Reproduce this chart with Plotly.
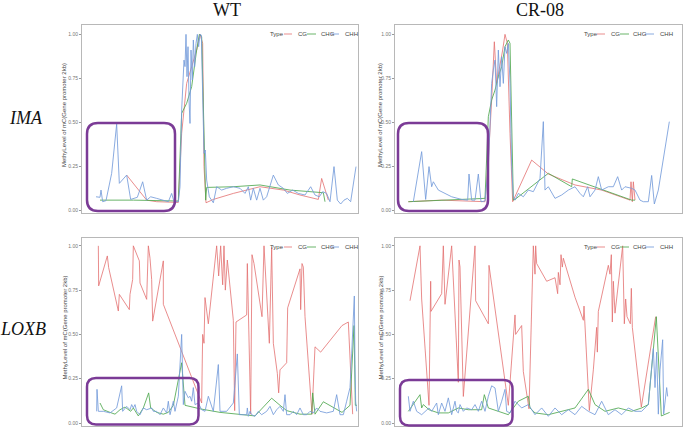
import plotly.graph_objects as go

W, H = 684, 428

# ---------------- data: (position, methylation level) ----------------
wt_ima_cg = [(380,0.202),(440,0.06),(470,0.051),(535,0.047),(545,0.439),(560,0.722),(575,0.817),(590,0.911),(600,1.0),(608,0.949),(612,0.25),(618,0.045),(640,0.064),(700,0.098),(780,0.136),(850,0.117),(900,0.089),(955,0.064),(965,0.183),(975,0.117),(985,0.06)]
wt_ima_chg = [(300,0.06),(400,0.06),(535,0.055),(545,0.552),(560,0.609),(575,0.703),(590,0.911),(598,1.0),(605,0.987),(617,0.06),(620,0.132),(700,0.136),(780,0.146),(870,0.117),(970,0.102),(975,0.051)]
wt_ima_chh = [(288,0.079),(300,0.076),(303,0.117),(308,0.051),(318,0.057),(335,0.212),(350,0.491),(358,0.155),(380,0.202),(392,0.064),(412,0.076),(428,0.164),(440,0.06),(452,0.079),(470,0.07),(490,0.06),(505,0.051),(515,0.098),(522,0.051),(535,0.051),(540,0.136),(545,0.571),(548,0.722),(552,0.854),(555,0.817),(558,1.0),(561,0.76),(564,0.93),(567,0.628),(570,0.495),(573,0.911),(577,0.741),(580,0.968),(584,0.817),(588,0.949),(592,1.0),(596,0.93),(600,1.0),(604,0.996),(608,0.628),(612,0.325),(616,0.344),(620,0.174),(628,0.079),(640,0.045),(650,0.136),(665,0.117),(680,0.127),(700,0.136),(720,0.127),(735,0.098),(745,0.136),(752,0.06),(760,0.127),(770,0.06),(780,0.127),(790,0.06),(800,0.079),(820,0.202),(835,0.146),(850,0.127),(862,0.098),(878,0.117),(895,0.098),(915,0.089),(932,0.136),(945,0.089),(958,0.079),(968,0.108),(980,0.098),(990,0.051),(1002,0.25),(1012,0.06),(1022,0.038),(1032,0.06),(1042,0.07),(1052,0.051),(1068,0.25)]

cr_ima_cg = [(200,0.051),(300,0.06),(430,0.051),(440,0.287),(450,0.628),(458,0.958),(465,0.722),(475,0.817),(483,0.911),(490,1.0),(497,0.949),(505,0.439),(513,0.051),(570,0.287),(620,0.208),(700,0.146),(780,0.117),(865,0.06),(868,0.164),(872,0.051),(875,0.164),(880,0.06)]
cr_ima_chg = [(200,0.051),(300,0.06),(430,0.07),(440,0.533),(450,0.628),(460,0.684),(470,0.76),(480,0.817),(490,0.93),(500,0.968),(505,0.949),(515,0.06),(520,0.064),(620,0.212),(690,0.136),(692,0.18),(870,0.06),(880,0.06)]
cr_ima_chh = [(215,0.051),(240,0.335),(252,0.064),(262,0.25),(270,0.136),(275,0.164),(290,0.117),(310,0.098),(330,0.079),(360,0.064),(378,0.06),(382,0.208),(390,0.06),(400,0.06),(410,0.208),(418,0.051),(430,0.055),(440,0.25),(445,0.476),(450,0.722),(455,0.798),(460,0.854),(465,0.59),(470,0.911),(475,0.703),(480,0.873),(485,0.722),(490,0.93),(495,0.892),(500,0.949),(505,0.722),(510,0.25),(515,0.079),(520,0.06),(530,0.098),(545,0.079),(560,0.117),(575,0.108),(595,0.183),(605,0.505),(610,0.117),(620,0.136),(640,0.07),(660,0.089),(680,0.117),(700,0.136),(715,0.098),(725,0.079),(738,0.136),(745,0.079),(760,0.117),(770,0.193),(780,0.117),(800,0.136),(815,0.136),(828,0.193),(840,0.117),(850,0.136),(870,0.127),(880,0.117),(895,0.06),(905,0.051),(920,0.051),(930,0.2),(938,0.038),(950,0.117),(983,0.505)]

wt_loxb_cg = [(295,1.0),(296,0.774),(322,0.943),(326,0.877),(355,0.632),(358,0.726),(388,0.64),(390,0.726),(398,0.81),(400,1.0),(418,0.915),(420,0.79),(440,0.698),(445,1.0),(450,0.93),(455,0.81),(458,0.575),(490,0.915),(490,0.67),(605,0.113),(608,0.5),(612,0.45),(615,0.708),(625,0.56),(650,1.0),(656,0.83),(662,1.0),(668,0.78),(672,1.0),(676,0.75),(682,0.92),(700,0.58),(704,0.07),(708,0.57),(740,0.61),(742,0.9),(752,0.05),(756,0.95),(762,0.9),(786,0.6),(792,1.0),(808,0.45),(815,0.99),(820,0.45),(832,0.28),(836,0.17),(840,0.3),(860,0.34),(863,0.65),(900,0.87),(902,0.64),(906,0.9),(910,0.88),(915,0.6),(936,0.05),(945,0.43),(962,0.4),(1026,0.55),(1045,0.57),(1058,0.05)]
wt_loxb_chg = [(300,0.113),(310,0.075),(330,0.06),(345,0.05),(360,0.075),(375,0.09),(392,0.066),(400,0.085),(415,0.04),(430,0.085),(446,0.17),(452,0.085),(470,0.06),(490,0.05),(505,0.06),(520,0.1),(545,0.34),(555,0.1),(600,0.08),(660,0.06),(765,0.04),(815,0.14),(840,0.1),(860,0.07),(900,0.05),(935,0.05),(938,0.17),(945,0.05),(970,0.12),(1000,0.09),(1026,0.06),(1050,0.1),(1062,0.55),(1066,0.1),(1071,0.1)]
wt_loxb_chh = [(290,0.066),(291,0.19),(295,0.066),(310,0.066),(330,0.057),(350,0.085),(365,0.21),(368,0.066),(380,0.094),(390,0.075),(395,0.104),(400,0.085),(405,0.104),(410,0.066),(420,0.047),(430,0.085),(440,0.075),(455,0.085),(460,0.066),(470,0.066),(480,0.047),(490,0.085),(500,0.057),(505,0.123),(510,0.047),(520,0.123),(525,0.066),(535,0.151),(545,0.5),(548,0.311),(550,0.104),(555,0.179),(565,0.142),(570,0.151),(575,0.123),(580,0.2),(585,0.104),(595,0.113),(605,0.075),(615,0.066),(625,0.151),(640,0.066),(655,0.33),(660,0.066),(680,0.066),(700,0.113),(712,0.39),(718,0.047),(740,0.047),(742,0.085),(745,0.038),(750,0.066),(755,0.047),(765,0.038),(775,0.066),(785,0.047),(800,0.066),(810,0.094),(820,0.047),(830,0.075),(840,0.094),(850,0.066),(855,0.16),(860,0.047),(870,0.047),(880,0.066),(890,0.047),(900,0.085),(910,0.047),(920,0.047),(930,0.066),(940,0.057),(950,0.085),(960,0.066),(980,0.057),(1000,0.066),(1010,0.16),(1020,0.047),(1030,0.047),(1040,0.123),(1050,0.2),(1055,0.39),(1060,0.61),(1063,0.717),(1065,0.33),(1067,0.123),(1070,0.066)]

cr_loxb_cg = [(205,0.69),(235,1.0),(240,0.7),(262,0.1),(267,0.8),(268,0.63),(300,0.73),(305,1.0),(310,0.67),(330,1.0),(350,0.23),(352,0.92),(355,0.88),(365,0.15),(400,1.0),(402,0.69),(440,0.56),(442,0.89),(500,0.1),(520,0.61),(522,0.5),(540,0.55),(545,0.29),(562,0.08),(575,1.0),(580,0.84),(582,1.0),(585,0.9),(615,0.8),(640,0.82),(648,0.73),(650,0.85),(655,0.78),(658,0.95),(662,0.88),(665,0.93),(700,0.71),(725,0.58),(727,0.66),(743,0.07),(755,0.3),(765,0.54),(767,0.4),(770,0.63),(800,0.89),(805,0.84),(809,0.95),(812,0.57),(815,0.8),(820,0.62),(843,1.0),(848,0.56),(852,0.7),(856,0.6),(866,0.56),(869,0.76),(872,0.54),(899,0.09),(942,0.6)]
cr_loxb_chg = [(200,0.066),(235,0.16),(240,0.085),(245,0.104),(262,0.075),(290,0.057),(320,0.057),(350,0.085),(380,0.075),(420,0.075),(428,0.16),(440,0.085),(470,0.066),(500,0.047),(530,0.123),(560,0.151),(565,0.085),(580,0.057),(620,0.047),(660,0.066),(700,0.085),(740,0.19),(760,0.104),(790,0.066),(830,0.085),(870,0.066),(900,0.085),(920,0.104),(944,0.6),(959,0.04),(984,0.06)]
cr_loxb_chh = [(200,0.151),(205,0.066),(215,0.123),(225,0.066),(240,0.047),(250,0.066),(262,0.085),(270,0.066),(285,0.113),(290,0.047),(300,0.113),(310,0.066),(320,0.142),(330,0.047),(340,0.123),(345,0.066),(350,0.057),(355,0.104),(365,0.066),(375,0.085),(390,0.075),(400,0.104),(410,0.066),(420,0.123),(430,0.066),(440,0.151),(450,0.21),(460,0.198),(470,0.066),(480,0.123),(490,0.19),(495,0.066),(505,0.057),(520,0.123),(540,0.085),(560,0.104),(580,0.047),(600,0.085),(620,0.038),(640,0.085),(660,0.047),(680,0.075),(700,0.047),(720,0.094),(740,0.066),(760,0.047),(780,0.123),(800,0.047),(820,0.075),(840,0.047),(860,0.085),(880,0.066),(900,0.066),(920,0.104),(930,0.3),(935,0.42),(940,0.2),(945,0.4),(950,0.05),(955,0.3),(963,0.47),(966,0.05),(975,0.2),(978,0.15)]

col_titles = ["WT", "CR-08"]
row_titles = ["IMA", "LOXB"]
types = ["CG", "CHG", "CHH"]
y_title = "MethyLevel of mC(Gene promoter 2kb)"
y_ticks = [0, 0.25, 0.5, 0.75, 1.0]
y_ticktext = ["0.00", "0.25", "0.50", "0.75", "1.00"]

# ---------------- styling ----------------
COLORS = {"CG": "rgba(228,112,112,0.8)", "CHG": "rgba(80,168,80,0.85)", "CHH": "rgba(118,156,218,0.85)"}
PURPLE = "#7B3B96"
BORDER = "#b8b8b8"

def fx(p): return p / W
def fy(p): return 1 - p / H

fig = go.Figure()
panels = [
    ("x", "y", wt_ima_cg, wt_ima_chg, wt_ima_chh),
    ("x2", "y2", cr_ima_cg, cr_ima_chg, cr_ima_chh),
    ("x3", "y3", wt_loxb_cg, wt_loxb_chg, wt_loxb_chh),
    ("x4", "y4", cr_loxb_cg, cr_loxb_chg, cr_loxb_chh),
]
for xa, ya, cg, chg, chh in panels:
    for name, series in zip(types, (cg, chg, chh)):
        fig.add_trace(go.Scatter(
            x=[p[0] for p in series], y=[p[1] for p in series],
            mode="lines", line=dict(color=COLORS[name], width=1),
            xaxis=xa, yaxis=ya, showlegend=False, hoverinfo="skip"))

col_dom = [(82, 358), (395, 682)]
row_dom = [(25, 213), (237.5, 425.5)]
x_ranges = [(246, 1074), (160, 1021)]
y_ranges = [(-0.013, 1.053), (-0.014, 1.047)]

layout = dict(width=W, height=H, margin=dict(l=0, r=0, t=0, b=0),
              paper_bgcolor="white", plot_bgcolor="white")
idx = 0
for r in range(2):
    for c in range(2):
        idx += 1
        sfx = "" if idx == 1 else str(idx)
        layout["xaxis" + sfx] = dict(
            domain=[fx(col_dom[c][0]), fx(col_dom[c][1])], anchor="y" + sfx,
            range=list(x_ranges[c]), showgrid=False, zeroline=False,
            showline=True, mirror=True, linecolor=BORDER, linewidth=1,
            showticklabels=False, ticks="")
        layout["yaxis" + sfx] = dict(
            domain=[fy(row_dom[r][1]), fy(row_dom[r][0])], anchor="x" + sfx,
            range=list(y_ranges[r]), showgrid=False, zeroline=False,
            showline=True, mirror=True, linecolor=BORDER, linewidth=1,
            tickvals=y_ticks, ticktext=y_ticktext, ticks="outside", ticklen=2,
            tickcolor="#999999", tickwidth=0.8,
            tickfont=dict(family="Liberation Sans", size=5, color="#777777"))
fig.update_layout(**layout)

ann = []
shapes = []
for t, xc in zip(col_titles, (227, 540)):
    ann.append(dict(text=t, x=fx(xc), y=fy(10), xref="paper", yref="paper",
                    showarrow=False, xanchor="center", yanchor="middle",
                    font=dict(family="Liberation Serif", size=18, color="#111")))
for t, xc, yc in zip(row_titles, (26, 23), (118, 329)):
    ann.append(dict(text="<i>%s</i>" % t, x=fx(xc), y=fy(yc), xref="paper", yref="paper",
                    showarrow=False, xanchor="center", yanchor="middle",
                    font=dict(family="Liberation Serif", size=18, color="#111")))
for xc in (64, 380):
    for (t0, t1) in row_dom:
        ann.append(dict(text=y_title, x=fx(xc), y=fy((t0 + t1) / 2 - 4), xref="paper", yref="paper",
                        showarrow=False, textangle=-90, xanchor="center", yanchor="middle",
                        font=dict(family="Liberation Sans", size=6, color="#444")))
leg_layout = [
    (268, [(284, 292), (307, 316), (331, 339)], [296, 319, 343]),
    (582, [(597, 605), (620, 629), (645, 654)], [609, 631, 658]),
]
for yrow in (34, 247):
    for tx, keys, labels in leg_layout:
        ann.append(dict(text="Type", x=fx(tx), y=fy(yrow), xref="paper", yref="paper",
                        showarrow=False, xanchor="left", yanchor="middle",
                        font=dict(family="Liberation Sans", size=6, color="#444")))
        for name, (k0, k1), lx in zip(types, keys, labels):
            shapes.append(dict(type="line", xref="paper", yref="paper",
                               x0=fx(k0), x1=fx(k1), y0=fy(yrow), y1=fy(yrow),
                               line=dict(color=COLORS[name], width=1)))
            ann.append(dict(text=name, x=fx(lx), y=fy(yrow), xref="paper", yref="paper",
                            showarrow=False, xanchor="left", yanchor="middle",
                            font=dict(family="Liberation Sans", size=6, color="#444")))

def rrect(x0, y0, x1, y1, r):
    rx, ry = r / W, r / H
    X0, X1 = fx(x0), fx(x1)
    Y0, Y1 = fy(y0), fy(y1)
    return (f"M {X0+rx},{Y0} L {X1-rx},{Y0} Q {X1},{Y0} {X1},{Y0-ry} "
            f"L {X1},{Y1+ry} Q {X1},{Y1} {X1-rx},{Y1} L {X0+rx},{Y1} "
            f"Q {X0},{Y1} {X0},{Y1+ry} L {X0},{Y0-ry} Q {X0},{Y0} {X0+rx},{Y0} Z")

for (x0, y0, x1, y1, r) in [(87, 123, 175, 211, 11), (398, 123, 488, 211, 11),
                            (87, 378, 198.5, 424.5, 9), (400, 380, 512.5, 425.5, 9)]:
    shapes.append(dict(type="path", xref="paper", yref="paper",
                       path=rrect(x0, y0, x1, y1, r),
                       line=dict(color=PURPLE, width=2.5), fillcolor="rgba(0,0,0,0)"))

fig.update_layout(annotations=ann, shapes=shapes)
fig.write_html("out.html", config={"displayModeBar": False},
               post_script="document.body.style.margin='0';document.body.style.overflow='hidden';")
